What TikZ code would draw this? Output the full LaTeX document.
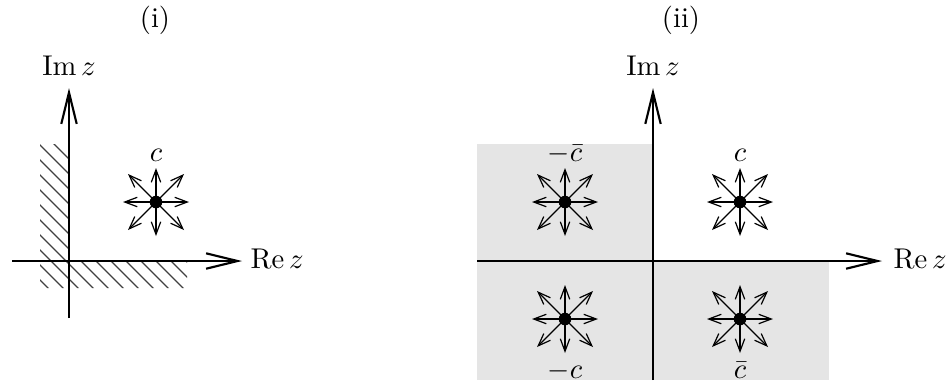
\documentclass[tikz,border=0pt]{standalone}
\usetikzlibrary{arrows.meta}
\begin{document}
\begin{tikzpicture}[x=0.35pt,y=-0.35pt,
  axisline/.style={line width=0.75pt,-{Straight Barb[length=11pt,width=5.4pt]}},
  ray/.style={line width=0.42pt,-{Straight Barb[length=4.4pt,width=3.3pt]}},
  pole/.style={circle,fill=black,inner sep=0pt,minimum size=4.4pt},
  hatchline/.style={line width=0.4pt,black!75},
  region/.style={fill=black!10},
  lbl/.style={inner sep=0pt,anchor=base}]
\useasboundingbox (0,0) rectangle (950,380);
% shaded quadrants of (ii)
\fill[region] (477,144) rectangle (653,380);
\fill[region] (653,261) rectangle (829,380);
% hatched region of (i)
\begin{scope}
  \clip (40,144) -- (69,144) -- (69,261) -- (187,261) -- (187,288) -- (40,288) -- cycle;
  \foreach \k in {-2,...,10}
    \draw[hatchline] ({40-200},{145+15*\k-200}) -- ++(500,500);
\end{scope}
% axes
\coordinate (ax1w) at (12,261);  \coordinate (ax1e) at (242,261);
\coordinate (ay1s) at (69,318);  \coordinate (ay1n) at (69,88);
\coordinate (ax2w) at (477,261); \coordinate (ax2e) at (882,261);
\coordinate (ay2s) at (653,380); \coordinate (ay2n) at (653,88);
\draw[axisline] (ax1w) -- (ax1e);
\draw[axisline] (ay1s) -- (ay1n);
\draw[axisline] (ax2w) -- (ax2e);
\draw[axisline] (ay2s) -- (ay2n);
% labels
\node[lbl] (t1) at (155,27) {(i)};
\node[lbl] (t2) at (681,27) {(ii)};
\node[lbl] (im1) at (69,75) {$\mathrm{Im}\,z$};
\node[lbl] (im2) at (653,75) {$\mathrm{Im}\,z$};
\node[lbl,anchor=base west] (re1) at (250,268) {$\mathrm{Re}\,z$};
\node[lbl,anchor=base west] (re2) at (893,268) {$\mathrm{Re}\,z$};
% poles
\node[pole] (p1) at (156,202) {};
\node[pole] (p2) at (740,202) {};
\node[pole] (p3) at (565,202) {};
\node[pole] (p4) at (565,319) {};
\node[pole] (p5) at (740,319) {};
\foreach \n in {p1,p2,p3,p4,p5}{
  \draw[ray] (\n.center) -- ++(33,0);
  \draw[ray] (\n.center) -- ++(-33,0);
  \draw[ray] (\n.center) -- ++(0,34);
  \draw[ray] (\n.center) -- ++(0,-34);
  \draw[ray] (\n.center) -- ++(28,28);
  \draw[ray] (\n.center) -- ++(-28,28);
  \draw[ray] (\n.center) -- ++(28,-28);
  \draw[ray] (\n.center) -- ++(-28,-28);
}
\node[lbl] (l1) at (156,161) {$c$};
\node[lbl] (l2) at (740,161) {$c$};
\node[lbl] (l3) at (565,161) {$-\bar{c}$};
\node[lbl] (l4) at (565,378) {$-c$};
\node[lbl] (l5) at (740,378) {$\bar{c}$};
\end{tikzpicture}
\end{document}
